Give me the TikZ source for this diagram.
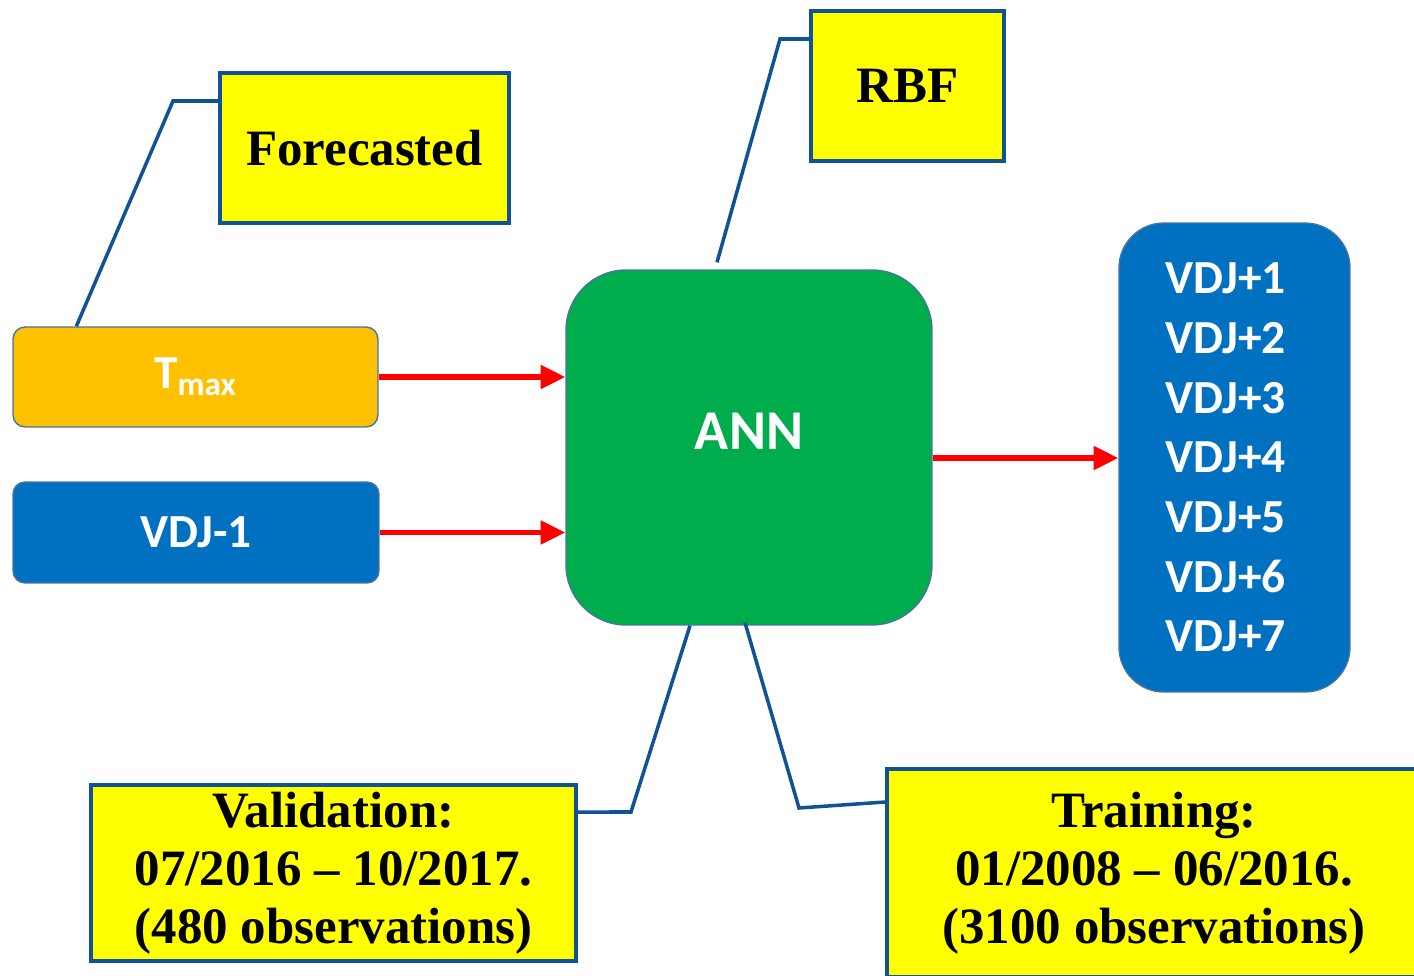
\documentclass[tikz,border=0pt]{standalone}
\usepackage{fontspec}
\setmainfont{Liberation Serif}
\newfontfamily\carlito{Carlito}
\usetikzlibrary{arrows.meta,positioning,calc}

\definecolor{annGreen}{RGB}{0,173,77}
\definecolor{vdjBlue}{RGB}{0,112,192}
\definecolor{tmaxOrange}{RGB}{255,192,0}
\definecolor{noteYellow}{RGB}{255,255,0}
\definecolor{noteEdge}{RGB}{16,82,150}
\definecolor{boxEdge}{RGB}{70,115,160}

\tikzset{
  note/.style={draw=noteEdge, line width=2.3pt, fill=noteYellow, align=center,
    font=\fontsize{29}{33}\selectfont\bfseries, inner sep=0pt},
  block/.style={draw=boxEdge, line width=0.8pt, text=white, align=center,
    font=\carlito\bfseries\fontsize{27}{34}\selectfont, inner sep=0pt},
  feed/.style={red, line width=3pt, -{Triangle[length=14pt,width=13pt]}},
  link/.style={noteEdge, line width=2pt}
}

\begin{document}
\begin{tikzpicture}[x=0.02cm,y=-0.02cm]
    \useasboundingbox (0,0) rectangle (1414,976);
    % Inputs
    \node[block, fill=tmaxOrange, rounded corners=0.24cm, minimum width=7.3cm, minimum height=2cm]
        (tmax) at (195.5,377) {T\textsubscript{max}};
    \node[block, fill=vdjBlue, rounded corners=0.24cm, minimum width=7.32cm, minimum height=2.02cm]
        (vdjin) at (196,532.5) {VDJ-1};
    % Network
    \node[block, fill=annGreen, rounded corners=1.2cm, minimum width=7.32cm, minimum height=7.1cm,
        font=\carlito\bfseries\fontsize{32}{36}\selectfont] (ann) at (749,447.5) {\raisebox{0.66cm}{ANN}};
    % Outputs
    \node[block, fill=vdjBlue, rounded corners=0.9cm, minimum width=4.62cm, minimum height=9.38cm,
        align=left] (vdjout) at (1234.5,457.5)
        {VDJ+1\hspace*{0.36cm}\\VDJ+2\\VDJ+3\\VDJ+4\\VDJ+5\\VDJ+6\\VDJ+7};
    % Notes
    \node[note, minimum width=5.78cm, minimum height=3cm] (fcast) at (364.5,148) {Forecasted};
    \node[note, minimum width=3.86cm, minimum height=3cm] (rbf) at (907.5,86) {RBF};
    \node[note, minimum width=9.7cm, minimum height=3.52cm] (valid) at (333.5,873)
        {Validation:\\07/2016 -- 10/2017.\\(480 observations)};
    \node[note, minimum width=10.68cm, minimum height=4.16cm] (train) at (1154,873)
        {Training:\\01/2008 -- 06/2016.\\(3100 observations)};
    % Arrows
    \draw[feed] (tmax.east) -- (tmax.east -| ann.west);
    \draw[feed] (vdjin.east) -- (vdjin.east -| ann.west);
    \draw[feed] ([yshift=-0.21cm]ann.east) -- ([yshift=-0.21cm]ann.east -| vdjout.west);
    % Callout lines
    \draw[link] ([xshift=1.28cm]tmax.north west) -- (173,101) -- ([yshift=0.94cm]fcast.west);
    \draw[link] ([xshift=-0.64cm,yshift=0.14cm]ann.north) -- (780,39) -- ([yshift=0.94cm]rbf.west);
    \draw[link] ([xshift=-1.18cm]ann.south) -- (631,812) -- ([yshift=1.22cm]valid.east);
    \draw[link] ([xshift=-0.08cm,yshift=0.06cm]ann.south) -- (799,808) -- ([yshift=1.42cm]train.west);
\end{tikzpicture}
\end{document}
